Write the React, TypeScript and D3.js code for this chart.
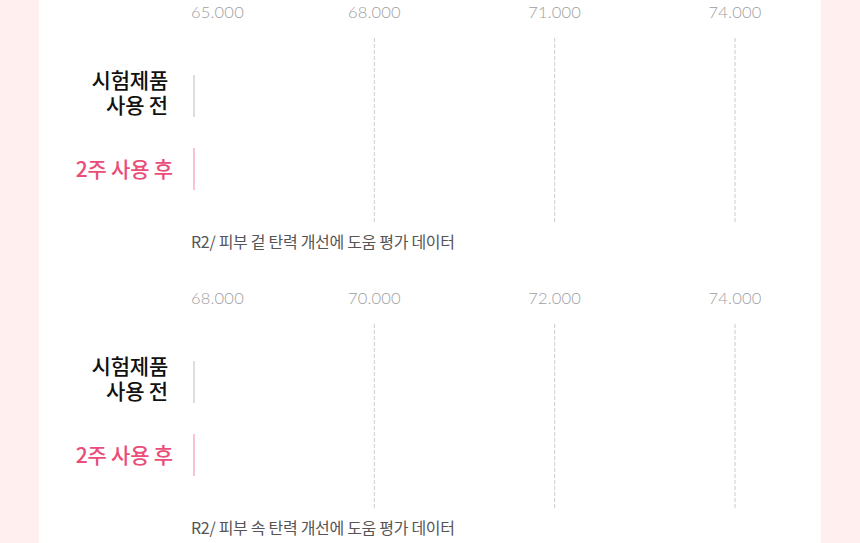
import React from "react";
import * as d3 from "d3";

const categories = ["시험제품\n사용 전", "2주 사용 후"];
const panelTitles = ["R2/ 피부 겉 탄력 개선에 도움 평가 데이터", "R2/ 피부 속 탄력 개선에 도움 평가 데이터"];
const panel1Ticks = [65, 68, 71, 74];
const panel2Ticks = [68, 70, 72, 74];
const panel1Values = [65.0, 65.0];
const panel2Values = [68.0, 68.01];

const W = 860;
const H = 543;
const BG = "#fff0ef";
const PINK_TEXT = "#ea4d78";
const PINK_BAR = "#f48aa6";
const GRAY_BAR = "#bdbdbd";

function Panel({ ticks, values, title, dy }: { ticks: number[]; values: number[]; title: string; dy: number }) {
  const x = d3.scaleLinear().domain([ticks[0], ticks[ticks.length - 1]]).range([194, 735]);
  const y = d3.scaleBand<string>().domain(categories).range([75, 190]).paddingInner(0.425).paddingOuter(0);
  const fmt = (v: number) => d3.format(".3f")(v);
  return (
    <g transform={`translate(0,${dy})`}>
      {ticks.map((t, i) => (
        <g key={t}>
          <text
            x={i === 0 ? 191 : x(t)}
            y={18}
            textAnchor={i === 0 ? "start" : "middle"}
            fontFamily="Lato, 'Open Sans', sans-serif"
            fontWeight={300}
            fontSize={16.5}
            letterSpacing={0.2}
            fill="#9e9e9e"
          >
            {fmt(t)}
          </text>
          {i > 0 && (
            <line x1={x(t)} x2={x(t)} y1={38} y2={222} stroke="#cccccc" strokeWidth={1} strokeDasharray="4 2" />
          )}
        </g>
      ))}
      {categories.map((c, i) => {
        const yb = y(c)!;
        const cy = yb + y.bandwidth() / 2;
        const w = Math.max(1, x(values[i]) - x(ticks[0]));
        const isAfter = i === 1;
        return (
          <g key={c}>
            <rect x={x(ticks[0]) - 0.5} y={yb} width={w} height={y.bandwidth()} fill={isAfter ? PINK_BAR : GRAY_BAR} />
            {isAfter ? (
              <text
                x={173}
                y={cy + 7.5}
                textAnchor="end"
                fontFamily="'Noto Sans CJK KR', sans-serif"
                fontWeight={500}
                fontSize={21}
                letterSpacing={-0.2}
                fill={PINK_TEXT}
              >
                {c}
              </text>
            ) : (
              <text
                textAnchor="end"
                fontFamily="'Noto Sans CJK KR', sans-serif"
                fontWeight={500}
                fontSize={21}
                letterSpacing={-0.2}
                fill="#111111"
              >
                {c.split("\n").map((line, k) => (
                  <tspan key={k} x={168} y={cy - 8 + k * 25}>
                    {line}
                  </tspan>
                ))}
              </text>
            )}
          </g>
        );
      })}
      <text
        x={191}
        y={248}
        fontFamily="'Noto Sans CJK KR', sans-serif"
        fontWeight={400}
        fontSize={16}
        letterSpacing={-0.3}
        fill="#555555"
      >
        {title}
      </text>
    </g>
  );
}

export default function App() {
  return (
    <div style={{ position: "absolute", left: 0, top: 0, width: W, height: H }}>
      <svg width={W} height={H} style={{ display: "block" }}>
        <rect x={0} y={0} width={W} height={H} fill={BG} />
        <rect x={39} y={0} width={782} height={H} fill="#ffffff" />
        <Panel ticks={panel1Ticks} values={panel1Values} title={panelTitles[0]} dy={0} />
        <Panel ticks={panel2Ticks} values={panel2Values} title={panelTitles[1]} dy={286} />
      </svg>
    </div>
  );
}
